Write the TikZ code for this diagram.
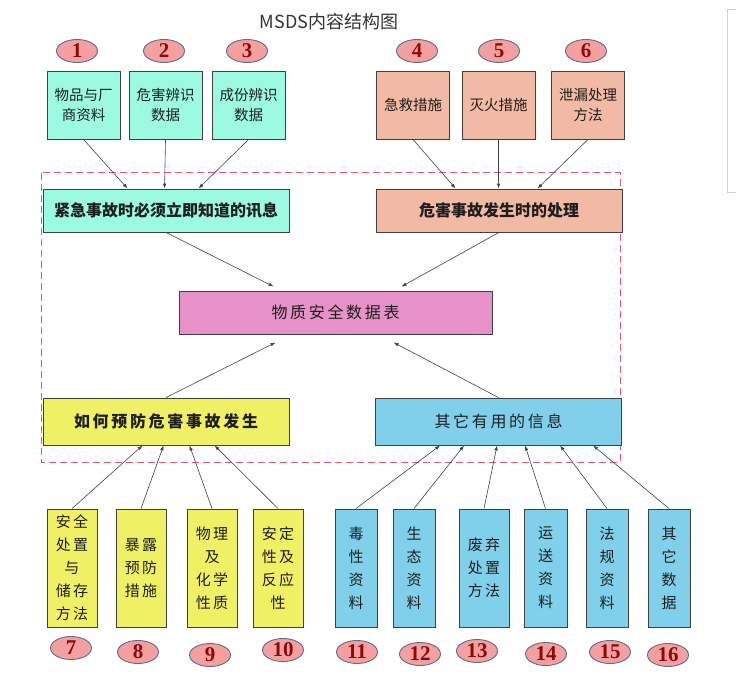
\documentclass[tikz,border=0pt]{standalone}
\usepackage{fontspec}
\usetikzlibrary{calc,arrows.meta,shapes.geometric}
\newfontfamily\cjk{Noto Sans CJK SC}
\newfontfamily\numserif{Liberation Serif}
\definecolor{boxline}{RGB}{64,64,64}
\definecolor{textdark}{RGB}{30,30,30}
\definecolor{infocyan}{RGB}{155,250,225}
\definecolor{treatsalmon}{RGB}{242,185,165}
\definecolor{msdspink}{RGB}{230,145,200}
\definecolor{prevyellow}{RGB}{240,240,100}
\definecolor{otherblue}{RGB}{128,208,236}
\definecolor{ovalfill}{RGB}{245,160,160}
\definecolor{ovalline}{RGB}{90,110,140}
\definecolor{numred}{RGB}{140,10,10}
\definecolor{framered}{RGB}{225,90,120}
\tikzset{
	box/.style={draw=boxline, line width=0.9pt, inner sep=0pt, align=center, text=textdark},
	smallbox/.style={box, minimum width=73pt, minimum height=68pt, font=\cjk\fontsize{14.5}{20}\selectfont},
	bigbox/.style={box, minimum width=246pt, minimum height=43pt, font=\cjk\bfseries\fontsize{16}{18}\selectfont},
	midbox/.style={box, minimum width=246pt, minimum height=47pt, font=\cjk\fontsize{16}{18}\selectfont},
	tallbox/.style={box, minimum height=118pt, font=\cjk\fontsize{15}{23}\selectfont},
	badge/.style={ellipse, draw=ovalline, fill=ovalfill, line width=0.9pt, minimum width=41pt, minimum height=23pt, inner sep=0pt, text=numred, font=\numserif\bfseries\fontsize{21}{21}\selectfont},
	link/.style={draw=boxline, line width=0.6pt, -{Latex[length=5pt,width=3.5pt]}},
}
\def\badge(#1,#2)#3{\node[badge] (n#3) at (#1,#2) {#3};}

\begin{document}
\begin{tikzpicture}[x=1pt,y=-1pt]
		%%%%% START %%%%%
		\useasboundingbox (0,0) rectangle (736,679);
		
		\node[font=\cjk\fontsize{18}{18}\selectfont, text=black!80] (title) at (329,22) {MSDS内容结构图};
		\draw[black!18, line width=0.8pt] (727,9) rectangle (745,192);
		
		\draw[framered, line width=1pt, dash pattern=on 7pt off 4pt] (41,173) rectangle (620,462);
		
		%% top row
		\badge(77,51){1}
		\badge(164,51){2}
		\badge(247,51){3}
		\badge(417,51){4}
		\badge(499,51){5}
		\badge(586,51){6}
		
		\node[smallbox, fill=infocyan] (b1) at (83.5,105) {物品与厂\\商资料};
		\node[smallbox, fill=infocyan] (b2) at (165.5,105) {危害辨识\\数据};
		\node[smallbox, fill=infocyan] (b3) at (248.5,105) {成份辨识\\数据};
		\node[smallbox, fill=treatsalmon] (b4) at (413,105) {急救措施};
		\node[smallbox, fill=treatsalmon] (b5) at (498.5,105) {灭火措施};
		\node[smallbox, fill=treatsalmon] (b6) at (588,105) {泄漏处理\\方法};
		
		\node[bigbox, fill=infocyan] (info) at (166,210.5) {紧急事故时必须立即知道的讯息};
		\node[bigbox, fill=treatsalmon] (treat) at (499,210.5) {危害事故发生时的处理};
		
		\node[box, fill=msdspink, minimum width=313pt, minimum height=43pt, font=\cjk\fontsize{16}{18}\selectfont] (msds) at (335.5,312.5) {物\,质\,安\,全\,数\,据\,表};
		
		\node[midbox, fill=prevyellow, font=\cjk\bfseries\fontsize{16}{18}\selectfont] (prevent) at (166,421.5) {如\,何\,预\,防\,危\,害\,事\,故\,发\,生};
		\node[midbox, fill=otherblue] (other) at (498.5,421.5) {其\,它\,有\,用\,的\,信\,息};
		
		%% bottom row
		\node[tallbox, fill=prevyellow, minimum width=50pt] (b7) at (72,568) {安\,全\\处\,置\\与\\储\,存\\方\,法};
		\node[tallbox, fill=prevyellow, minimum width=50pt] (b8) at (141,568) {暴\,露\\预\,防\\措\,施};
		\node[tallbox, fill=prevyellow, minimum width=50pt] (b9) at (212,568) {物\,理\\及\\化\,学\\性\,质};
		\node[tallbox, fill=prevyellow, minimum width=50pt] (b10) at (278,568) {安\,定\\性\,及\\反\,应\\性};
		\node[tallbox, fill=otherblue, minimum width=42pt] (b11) at (356,568) {毒\\性\\资\\料};
		\node[tallbox, fill=otherblue, minimum width=42pt] (b12) at (414,568) {生\\态\\资\\料};
		\node[tallbox, fill=otherblue, minimum width=50pt] (b13) at (484,568) {废\,弃\\处\,置\\方\,法};
		\node[tallbox, fill=otherblue, minimum width=43pt] (b14) at (545.5,568) {运\\送\\资\\料};
		\node[tallbox, fill=otherblue, minimum width=42pt] (b15) at (607,568) {法\\规\\资\\料};
		\node[tallbox, fill=otherblue, minimum width=42pt] (b16) at (669,568) {其\\它\\数\\据};
		
		\badge(71,648){7}
		\badge(138,652){8}
		\badge(210,655){9}
		\badge(283,650){10}
		\badge(357,652){11}
		\badge(420,654){12}
		\badge(477,651){13}
		\badge(546,654){14}
		\badge(610,652){15}
		\badge(668,655){16}
		
		%% links
		\draw[link] (b1.south) -- ($(info.north west)+(85,0)$);
		\draw[link] (b2.south) -- ($(info.north west)+(122,0)$);
		\draw[link] (b3.south) -- ($(info.north west)+(156,0)$);
		\draw[link] (b4.south) -- ($(treat.north west)+(80,0)$);
		\draw[link] (b5.south) -- ($(treat.north west)+(123,0)$);
		\draw[link] (b6.south) -- ($(treat.north west)+(162,0)$);
		
		\draw[link] (info.south) -- ($(msds.north west)+(95,-4)$);
		\draw[link] (treat.south) -- ($(msds.north west)+(223,-4)$);
		\draw[link] (prevent.north) -- ($(msds.south west)+(97,8)$);
		\draw[link] (other.north) -- ($(msds.south west)+(215,8)$);
		
		\draw[link] (b7.north) -- ($(prevent.south west)+(100,0)$);
		\draw[link] (b8.north) -- ($(prevent.south west)+(121,0)$);
		\draw[link] (b9.north) -- ($(prevent.south west)+(147,0)$);
		\draw[link] (b10.north) -- ($(prevent.south west)+(172,0)$);
		\draw[link] (b11.north) -- ($(other.south west)+(65,0)$);
		\draw[link] (b12.north) -- ($(other.south west)+(89,0)$);
		\draw[link] (b13.north) -- ($(other.south west)+(122,0)$);
		\draw[link] (b14.north) -- ($(other.south west)+(150,0)$);
		\draw[link] (b15.north) -- ($(other.south west)+(185,0)$);
		\draw[link] (b16.north) -- ($(other.south west)+(218,0)$);
		
		%%%%% END %%%%%
	\end{tikzpicture}
\end{document}
